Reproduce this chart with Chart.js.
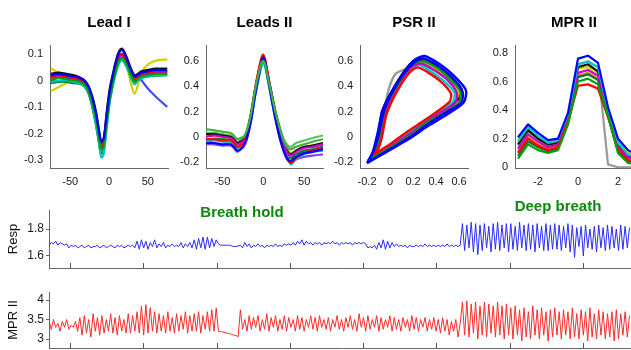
<!DOCTYPE html>
<html>
<head>
<meta charset="utf-8">
<script src="https://cdn.jsdelivr.net/npm/chart.js@4.4.0/dist/chart.umd.min.js"></script>
<style>
body{margin:0;background:#fff;width:631px;height:350px;overflow:hidden;position:relative;font-family:'Liberation Sans',Arial,sans-serif}
canvas{position:absolute}
.note{position:absolute;color:#0a8a0a;font-weight:bold;font-size:15px;white-space:nowrap;transform:translate(-50%,-50%);z-index:5}
</style>
</head>
<body>
<canvas id="c1" width="180" height="190" style="left:0;top:0"></canvas>
<canvas id="c2" width="179" height="190" style="left:156px;top:0"></canvas>
<canvas id="c3" width="170" height="190" style="left:310px;top:0"></canvas>
<canvas id="c4" width="168" height="190" style="left:465px;top:0"></canvas>
<canvas id="c5" width="635" height="82" style="left:0;top:198px"></canvas>
<canvas id="c6" width="635" height="80" style="left:0;top:280px"></canvas>
<div class="note" style="left:242px;top:211px">Breath hold</div>
<div class="note" style="left:558px;top:205px">Deep breath</div>
<script>
// ---- Lead I beats (x in samples around R peak) ----
let leadIX = [-75,-65,-55,-45,-38,-32,-27,-22,-17,-13,-10,-7,-3,1,5,9,13,17,21,25,29,33,37,42,50,60,75];
let leadIBeats = [
  [0.02,0.025,0.02,0.015,0.01,0.0,-0.02,-0.06,-0.12,-0.19,-0.23,-0.22,-0.13,-0.04,0.02,0.07,0.105,0.115,0.095,0.065,0.035,0.015,0.02,0.03,0.035,0.04,0.04],
  [0.0,0.01,0.005,0.0,-0.005,-0.015,-0.035,-0.08,-0.14,-0.21,-0.26,-0.25,-0.16,-0.07,-0.01,0.04,0.075,0.085,0.07,0.045,0.015,-0.005,0.005,0.015,0.02,0.025,0.025],
  [0.015,0.02,0.015,0.01,0.005,-0.005,-0.025,-0.065,-0.125,-0.195,-0.245,-0.235,-0.14,-0.05,0.01,0.06,0.095,0.1,0.08,0.055,0.025,0.005,0.015,0.025,0.03,0.035,0.035],
  [-0.005,0.0,0.0,-0.005,-0.01,-0.02,-0.04,-0.09,-0.16,-0.23,-0.29,-0.28,-0.18,-0.08,-0.02,0.03,0.065,0.075,0.06,0.035,0.005,-0.015,0.0,0.01,0.015,0.02,0.02],
  [0.01,0.015,0.01,0.005,0.0,-0.01,-0.03,-0.075,-0.135,-0.205,-0.255,-0.245,-0.15,-0.06,0.0,0.05,0.085,0.095,0.075,0.05,0.02,0.0,0.01,0.02,0.025,0.03,0.03],
  [0.025,0.03,0.025,0.02,0.012,0.002,-0.018,-0.055,-0.115,-0.185,-0.235,-0.225,-0.12,-0.03,0.025,0.075,0.11,0.12,0.1,0.07,0.04,0.02,0.025,0.035,0.04,0.045,0.045],
  [-0.01,-0.005,-0.005,-0.01,-0.012,-0.022,-0.045,-0.095,-0.165,-0.235,-0.275,-0.265,-0.17,-0.075,-0.015,0.035,0.07,0.08,0.065,0.04,0.01,-0.01,0.0,0.01,0.015,0.018,0.02],
  [0.005,0.012,0.008,0.003,-0.002,-0.012,-0.03,-0.07,-0.13,-0.2,-0.25,-0.24,-0.145,-0.055,0.005,0.055,0.09,0.098,0.078,0.052,0.022,0.002,0.012,0.022,0.028,0.032,0.032],
  [0.045,0.03,0.02,0.02,0.01,-0.005,-0.03,-0.07,-0.13,-0.2,-0.24,-0.23,-0.14,-0.05,0.0,0.05,0.085,0.09,0.07,0.03,-0.02,-0.05,-0.02,0.03,0.06,0.075,0.08],
  [-0.04,-0.025,-0.01,0.0,-0.005,-0.015,-0.035,-0.08,-0.14,-0.21,-0.25,-0.24,-0.15,-0.06,0.0,0.05,0.08,0.09,0.075,0.05,0.02,0.0,0.01,0.02,0.025,0.03,0.03],
  [0.01,0.015,0.01,0.005,0.0,-0.01,-0.03,-0.075,-0.135,-0.205,-0.255,-0.245,-0.15,-0.06,0.0,0.05,0.085,0.095,0.075,0.05,0.02,0.005,0.015,0.0,-0.03,-0.06,-0.1]
];
let leadITicksX = [-50, 0, 50];
let leadITicksY = [-0.3, -0.2, -0.1, 0, 0.1];

// ---- Leads II beats ----
let leadIIX = [-70,-60,-50,-40,-36,-32,-28,-24,-20,-15,-10,-5,-2,0,2,5,10,15,20,25,30,34,40,50,60,73];
let leadIIBeats = [
  [0.06,0.05,0.04,0.03,0.01,-0.02,-0.01,0.0,0.05,0.18,0.37,0.52,0.59,0.6,0.58,0.49,0.34,0.19,0.07,-0.03,-0.09,-0.1,-0.08,-0.06,-0.04,-0.02],
  [-0.05,-0.05,-0.06,-0.06,-0.08,-0.11,-0.1,-0.07,-0.01,0.13,0.33,0.5,0.6,0.63,0.6,0.49,0.31,0.14,0.0,-0.11,-0.18,-0.19,-0.16,-0.13,-0.12,-0.1],
  [-0.02,-0.02,-0.03,-0.03,-0.05,-0.08,-0.07,-0.05,0.01,0.17,0.38,0.55,0.63,0.65,0.62,0.52,0.33,0.15,0.0,-0.1,-0.18,-0.21,-0.17,-0.13,-0.11,-0.09],
  [-0.04,-0.03,-0.04,-0.05,-0.07,-0.09,-0.08,-0.06,0.0,0.14,0.33,0.48,0.56,0.58,0.56,0.47,0.3,0.14,0.01,-0.1,-0.17,-0.22,-0.18,-0.14,-0.12,-0.11],
  [0.0,0.01,0.0,-0.01,-0.03,-0.06,-0.05,-0.03,0.03,0.17,0.36,0.52,0.6,0.62,0.59,0.5,0.33,0.17,0.04,-0.06,-0.13,-0.15,-0.12,-0.09,-0.08,-0.06],
  [0.02,0.02,0.01,0.0,-0.02,-0.05,-0.04,-0.02,0.04,0.18,0.37,0.53,0.61,0.63,0.6,0.51,0.35,0.19,0.06,-0.05,-0.12,-0.14,-0.11,-0.08,-0.07,-0.05],
  [-0.03,-0.02,-0.02,-0.03,-0.06,-0.09,-0.07,-0.05,0.01,0.15,0.35,0.51,0.59,0.61,0.58,0.48,0.32,0.16,0.03,-0.08,-0.15,-0.17,-0.14,-0.11,-0.1,-0.08],
  [0.01,0.0,-0.01,-0.02,-0.04,-0.06,-0.05,-0.03,0.03,0.16,0.35,0.5,0.57,0.59,0.57,0.48,0.32,0.17,0.05,-0.05,-0.11,-0.13,-0.11,-0.08,-0.07,-0.06],
  [0.03,0.03,0.02,0.01,-0.01,-0.04,-0.03,-0.01,0.05,0.19,0.38,0.54,0.62,0.64,0.61,0.5,0.35,0.2,0.08,-0.02,-0.07,-0.08,-0.05,-0.03,-0.01,0.01],
  [-0.06,-0.06,-0.07,-0.07,-0.09,-0.12,-0.1,-0.08,-0.02,0.12,0.32,0.49,0.58,0.6,0.58,0.48,0.3,0.13,-0.01,-0.12,-0.19,-0.2,-0.18,-0.16,-0.15,-0.14]
];
let leadIITicksX = [-50, 0, 50];
let leadIITicksY = [-0.2, 0, 0.2, 0.4, 0.6];

// ---- PSR II loops, [x, y] pairs ----
let psrLoops = [
  [[-0.2,-0.21],[-0.03,-0.12],[0.16,-0.02],[0.34,0.09],[0.52,0.19],[0.64,0.27],[0.66,0.37],[0.56,0.48],[0.44,0.57],[0.3,0.64],[0.2,0.6],[0.07,0.44],[-0.06,0.22],[-0.11,0.02],[-0.15,-0.12],[-0.2,-0.21]],
  [[-0.19,-0.2],[-0.02,-0.11],[0.16,-0.01],[0.33,0.1],[0.5,0.2],[0.62,0.27],[0.63,0.36],[0.54,0.47],[0.42,0.56],[0.29,0.62],[0.2,0.58],[0.07,0.43],[-0.05,0.21],[-0.1,0.01],[-0.14,-0.11],[-0.19,-0.2]],
  [[-0.14,-0.14],[0.0,-0.06],[0.15,0.04],[0.3,0.13],[0.44,0.22],[0.52,0.28],[0.53,0.34],[0.45,0.43],[0.33,0.51],[0.24,0.55],[0.17,0.51],[0.06,0.36],[-0.03,0.18],[-0.07,0.0],[-0.1,-0.09],[-0.14,-0.14]],
  [[-0.18,-0.18],[-0.02,-0.1],[0.16,0.0],[0.32,0.11],[0.49,0.2],[0.6,0.27],[0.61,0.36],[0.52,0.46],[0.4,0.55],[0.28,0.6],[0.19,0.57],[0.07,0.42],[-0.05,0.2],[-0.09,0.01],[-0.13,-0.11],[-0.18,-0.18]],
  [[-0.17,-0.17],[-0.01,-0.09],[0.15,0.01],[0.31,0.11],[0.47,0.21],[0.57,0.27],[0.58,0.35],[0.5,0.45],[0.38,0.53],[0.27,0.58],[0.18,0.55],[0.06,0.4],[-0.04,0.19],[-0.08,0.01],[-0.12,-0.1],[-0.17,-0.17]],
  [[-0.15,-0.15],[-0.01,-0.07],[0.15,0.03],[0.3,0.12],[0.46,0.22],[0.55,0.28],[0.56,0.35],[0.47,0.44],[0.35,0.52],[0.25,0.57],[0.17,0.53],[0.06,0.38],[-0.04,0.18],[-0.08,0.0],[-0.11,-0.09],[-0.15,-0.15]],
  [[-0.19,-0.19],[-0.03,-0.1],[0.14,0.0],[0.3,0.12],[0.48,0.22],[0.6,0.3],[0.62,0.38],[0.52,0.48],[0.4,0.57],[0.27,0.62],[0.17,0.57],[0.04,0.4],[-0.07,0.2],[-0.1,0.0],[-0.14,-0.12],[-0.19,-0.19]],
  [[-0.16,-0.16],[0.0,-0.08],[0.15,0.02],[0.31,0.12],[0.47,0.21],[0.58,0.28],[0.6,0.36],[0.51,0.46],[0.39,0.54],[0.27,0.6],[0.18,0.56],[0.06,0.41],[-0.05,0.19],[-0.09,0.0],[-0.12,-0.1],[-0.16,-0.16]],
  [[-0.17,-0.17],[0.0,-0.09],[0.15,0.01],[0.31,0.11],[0.47,0.21],[0.57,0.27],[0.58,0.35],[0.5,0.45],[0.38,0.53],[0.27,0.58],[0.15,0.54],[0.05,0.5],[-0.01,0.38],[-0.05,0.2],[-0.08,0.0],[-0.17,-0.17]]
];
let psrTicksX = [-0.2, 0, 0.2, 0.4, 0.6];
let psrTicksY = [-0.2, 0, 0.2, 0.4, 0.6];

// ---- MPR II beats ----
let mprBeatX = [-3,-2.5,-2,-1.5,-1,-0.5,0,0.5,1,1.5,2,2.5,3];
let mprBeats = [
  [0.21,0.3,0.24,0.19,0.2,0.38,0.76,0.78,0.73,0.42,0.2,0.12,0.08],
  [0.06,0.16,0.12,0.1,0.12,0.3,0.6,0.62,0.58,0.36,0.1,0.03,0.02],
  [0.1,0.2,0.15,0.12,0.14,0.32,0.57,0.58,0.55,0.35,0.12,0.05,0.03],
  [0.18,0.28,0.22,0.17,0.19,0.36,0.72,0.74,0.7,0.4,0.17,0.09,0.06],
  [0.13,0.23,0.18,0.14,0.16,0.33,0.66,0.68,0.64,0.38,0.14,0.07,0.04],
  [0.16,0.26,0.2,0.16,0.17,0.34,0.7,0.72,0.67,0.39,0.16,0.08,0.05],
  [0.08,0.18,0.14,0.11,0.13,0.31,0.63,0.65,0.61,0.37,0.11,0.04,0.03],
  [0.2,0.27,0.21,0.18,0.18,0.35,0.69,0.7,0.66,0.39,0.18,0.1,0.07],
  [0.11,0.21,0.16,0.13,0.15,0.32,0.64,0.66,0.62,0.37,0.13,0.06,0.04],
  [0.15,0.25,0.2,0.15,0.16,0.34,0.72,0.74,0.7,0.02,0.0,0.0,0.0]
];
let mprTicksX = [-2, 0, 2];
let mprTicksY = [0, 0.2, 0.4, 0.6, 0.8];

// ---- long recordings (one sample every 0.6 s) ----
let respCalm1 = [1.68,1.70,1.69,1.71,1.68,1.70,1.69,1.68,1.69,
  1.66,1.68,1.67,1.68,1.66,1.67,1.68,1.66,1.67,1.68,1.66,1.67,1.67,1.68,1.66,1.67,1.68,1.66,1.67,1.68,1.67,1.66,1.68,1.67,1.68,1.66,1.67,1.68,1.67,1.68,
  1.66,1.71,1.65,1.72,1.66,1.71,1.65,1.70,1.67,1.72,1.66,1.69,1.67,1.70,1.66,
  1.68,1.67,1.69,1.67,1.68,1.67,1.70,1.66,1.69,1.67,1.70,
  1.66,1.72,1.65,1.73,1.66,1.74,1.65,1.74,1.66,1.73,1.67,1.72];
let respHold = [1.69,1.68,1.68,1.68,1.68,1.68,1.675,1.67,1.67,1.675];
let respCalm2 = [1.68,1.66,1.70,1.67,1.69,1.66,1.68,1.67,1.69,1.67,1.68,1.66,1.68,1.67,1.68,1.67,1.69,1.67,1.68,1.67,1.69,1.68,1.69,
  1.68,1.70,1.68,1.71,1.69,1.72,1.68,1.71,1.69,1.70,1.68,1.70,
  1.69,1.70,1.68,1.70,1.69,1.70,1.69,1.71,1.69,1.70,1.68,1.70,1.69,1.70,1.69,1.70,1.68,1.70,1.69,1.70,1.69,1.70,1.69,
  1.66,
  1.67,1.66,1.68,1.65,1.70,1.66,1.72,1.65,1.71,1.66,1.70,
  1.67,1.69,1.67,1.68,1.67,1.68,1.66,1.68,1.67,1.67,1.68,
  1.67,1.68,1.67,1.69,1.67,1.68,1.67,1.68,1.67,1.68,1.67,1.68,1.67,1.69,1.67,1.68,1.67,1.68,1.67,1.68];
let respDeep = [1.84,1.64,1.83,1.66,1.85,1.63,1.84,1.61,1.83,1.64,
  1.84,1.66,1.82,1.63,1.84,1.65,1.85,1.64,1.83,1.66,
  1.84,1.63,1.84,1.65,1.82,1.64,1.85,1.66,1.83,1.64,
  1.84,1.65,1.83,1.63,1.84,1.66,1.82,1.64,1.84,1.64,
  1.83,1.65,1.84,1.65,1.83,1.64,1.82,1.66,1.84,1.63,
  1.83,1.59,1.81,1.67,1.82,1.60,1.83,1.66,1.80,1.65,
  1.82,1.63,1.83,1.66,1.81,1.64,1.83,1.65,1.82,1.66,
  1.80,1.64,1.83,1.65,1.82,1.66,1.81];

let mprCalm1 = [3.45,3.25,3.5,3.3,3.4,3.2,3.45,3.3,3.5,3.25,3.35,3.3,3.45,3.2,
  3.55,3.1,3.6,3.15,3.5,3.05,3.65,3.2,3.55,3.1,3.6,3.15,3.5,3.2,3.65,3.15,3.55,3.1,3.6,3.2,3.5,3.15,3.65,
  3.15,3.6,3.2,3.7,3.15,3.85,3.1,3.88,3.15,3.8,3.2,3.7,3.15,3.65,
  3.2,3.6,3.15,3.7,3.2,3.55,3.15,3.65,3.2,3.6,3.25,3.7,3.15,3.6,3.2,3.65,3.2,3.7,3.15,3.6,3.25,3.7,3.2,3.75,3.2,3.8];
let mprHold = [3.2,3.19,3.18,3.16,3.15,3.14,3.12,3.1,3.09,3.06];
let mprCalm2 = [3.75,3.25,3.5,3.2,3.6,3.25,3.55,3.3,3.6,3.2,3.5,3.25,3.65,3.2,3.55,3.3,3.6,3.2,3.5,3.25,
  3.6,3.2,3.55,3.3,3.5,3.2,3.6,3.25,3.55,3.2,3.5,3.3,3.6,3.25,3.55,3.2,3.6,3.3,3.5,3.25,
  3.55,3.2,3.5,3.3,3.6,3.25,3.5,3.2,3.55,3.3,3.6,3.25,3.5,3.2,3.65,3.3,3.55,3.2,3.6,3.25,
  3.5,3.3,3.6,3.2,3.55,3.25,3.5,3.3,3.6,3.2,
  3.55,3.25,3.5,3.2,3.55,3.3,3.5,3.2,3.6,3.25,3.55,3.2,3.5,3.3,3.55,3.2,3.5,3.25,3.55,3.2,
  3.5,3.15,3.55,3.2,3.5,3.1,3.45,3.2,3.5,3.05,3.4];
let mprDeep = [3.95,3.1,3.98,3.05,3.9,3.15,3.95,3.0,3.85,3.1,
  3.95,3.05,3.9,3.15,3.85,3.05,3.95,3.1,3.85,3.0,
  3.9,3.1,3.8,3.0,3.85,3.1,3.75,2.95,3.8,3.05,
  3.7,3.0,3.85,3.1,3.75,3.0,3.8,3.1,3.7,2.95,
  3.75,3.05,3.8,3.1,3.7,3.0,3.75,3.1,3.7,3.0,
  3.8,3.05,3.65,3.0,3.75,3.1,3.7,2.95,3.8,3.05,
  3.65,3.0,3.75,3.1,3.7,3.0,3.65,3.05,3.7,2.95,
  3.75,3.0,3.65,3.1,3.7,3.05,3.6];

let recStart = -5.7;   // seconds
let recStep = 0.6;
let recTicks = [0, 20, 40, 60, 80, 100, 120, 140];
let respTicks = [1.6, 1.8];
let mprTicks = [3, 3.5, 4];

// colours, axis look
let leadIColors = ['#0000ff','#00a000','#ff0000','#00c8c8','#c800c8','#111111','#007a3d','#ff8000','#d0d000','#d0d000','#4848ff'];
let leadIIColors = ['#40b040','#0000ff','#ff0000','#00c8c8','#c800c8','#111111','#007a3d','#d0d000','#60c060','#8040ff'];
let psrColors = ['#0000ff','#0000ff','#ff0000','#00a000','#c800c8','#00c8c8','#111111','#d0d000','#999999'];
let mprColors = ['#0000ff','#00a000','#ff0000','#00c8c8','#c800c8','#111111','#007a3d','#d0d000','#ff8000','#999999'];
let fontFam = "'Liberation Sans', Arial, sans-serif";
let axisCol = '#666';
Chart.defaults.font.family = fontFam;
Chart.defaults.animation = false;

function fmt(v) { return String(Math.round(v * 100) / 100); }

function fixTicks(list) {
    return function(s) { s.ticks = list.map(function(v) { return {value: v}; }); };
}

function beatSets(xs, beats, colors, tension) {
    return beats.map(function(b, k) {
        return {
            data: b.map(function(v, i) { return {x: xs[i], y: v}; }),
            borderColor: colors[k], borderWidth: 2.2, pointRadius: 0,
            tension: tension, borderJoinStyle: 'round', fill: false
        };
    });
}

function loopSets(loops, colors) {
    return loops.map(function(lp, k) {
        return {
            data: lp.map(function(p) { return {x: p[0], y: p[1]}; }),
            borderColor: colors[k], borderWidth: 2.4, pointRadius: 0,
            tension: 0.25, borderJoinStyle: 'round', fill: false
        };
    });
}

function drawPanel(id, title, datasets, xr, yr, xTicks, yTicks, padRight)
{
    let tickFont = {size: 11, family: fontFam};
    new Chart(document.getElementById(id), {
        type: 'line',
        data: { datasets: datasets },
        options: {
            responsive: false,
            devicePixelRatio: 1,
            layout: { padding: { right: padRight } },
            plugins: {
                legend: { display: false },
                tooltip: { enabled: false },
                title: { display: true, text: title, fullSize: false, color: '#000',
                         font: { size: 15, weight: 'bold', family: fontFam },
                         padding: { top: 14, bottom: 13 } }
            },
            scales: {
                x: { type: 'linear', min: xr[0], max: xr[1],
                     grid: { drawOnChartArea: false, drawTicks: false },
                     border: { color: axisCol },
                     afterBuildTicks: fixTicks(xTicks),
                     ticks: { autoSkip: false, maxRotation: 0,
                              padding: 7, color: '#1a1a1a', font: tickFont, callback: fmt },
                     afterFit: function(s) { s.height = 22; } },
                y: { min: yr[0], max: yr[1],
                     grid: { drawOnChartArea: false, drawTicks: false },
                     border: { color: axisCol },
                     afterBuildTicks: fixTicks(yTicks),
                     ticks: { padding: 7, color: '#1a1a1a', font: tickFont, callback: fmt },
                     afterFit: function(s) { s.width = 50; } }
            }
        }
    });
}

let inwardTicks = {
    id: 'inwardTicks',
    afterDraw: function(chart) {
        let xs = chart.scales.x, ca = chart.chartArea, ctx = chart.ctx;
        ctx.save();
        ctx.strokeStyle = '#555';
        ctx.lineWidth = 1;
        xs.ticks.forEach(function(t) {
            let px = Math.round(xs.getPixelForValue(t.value)) + 0.5;
            ctx.beginPath();
            ctx.moveTo(px, ca.bottom);
            ctx.lineTo(px, ca.bottom - 5);
            ctx.stroke();
        });
        ctx.restore();
    }
};

function drawRecording(id, label, values, color, yr, yTicks)
{
    let pts = values.map(function(v, i) { return {x: recStart + i * recStep, y: v}; });
    new Chart(document.getElementById(id), {
        type: 'line',
        data: { datasets: [{ data: pts, borderColor: color, borderWidth: 1, pointRadius: 0, tension: 0 }] },
        options: {
            responsive: false,
            devicePixelRatio: 1,
            layout: { padding: { top: 12 } },
            plugins: { legend: { display: false }, tooltip: { enabled: false } },
            scales: {
                x: { type: 'linear', min: -5.73, max: 154.2,
                     grid: { drawOnChartArea: false, drawTicks: false },
                     border: { color: axisCol },
                     afterBuildTicks: fixTicks(recTicks),
                     ticks: { display: false },
                     afterFit: function(s) { s.height = 12; } },
                y: { min: yr[0], max: yr[1],
                     grid: { drawOnChartArea: false, drawTicks: true, tickLength: 3, color: axisCol },
                     border: { color: axisCol },
                     title: { display: true, text: label, color: '#111',
                              font: { size: 13, family: fontFam }, padding: { top: 6, bottom: 0 } },
                     afterBuildTicks: fixTicks(yTicks),
                     ticks: { padding: 2, color: '#1a1a1a', font: { size: 12, family: fontFam }, callback: fmt },
                     afterFit: function(s) { s.width = 49; } }
            }
        },
        plugins: [inwardTicks]
    });
}

drawPanel('c1', 'Lead I', beatSets(leadIX, leadIBeats, leadIColors, 0.35), [-76, 76], [-0.33, 0.134], leadITicksX, leadITicksY, 12);
drawPanel('c2', 'Leads II', beatSets(leadIIX, leadIIBeats, leadIIColors, 0.3), [-70, 73], [-0.248, 0.727], leadIITicksX, leadIITicksY, 12);
drawPanel('c3', 'PSR II', loopSets(psrLoops, psrColors), [-0.261, 0.678], [-0.248, 0.727], psrTicksX, psrTicksY, 12);
drawPanel('c4', 'MPR II', beatSets(mprBeatX, mprBeats, mprColors, 0), [-3.15, 2.75], [-0.005, 0.855], mprTicksX, mprTicksY, 0);

let resp = respCalm1.concat(respHold, respCalm2, respDeep);
let mpr = mprCalm1.concat(mprHold, mprCalm2, mprDeep);
drawRecording('c5', 'Resp', resp, '#2a2aff', [1.511, 1.941], respTicks);
drawRecording('c6', 'MPR II', mpr, '#ff2a2a', [2.77, 4.205], mprTicks);
</script>
</body>
</html>
